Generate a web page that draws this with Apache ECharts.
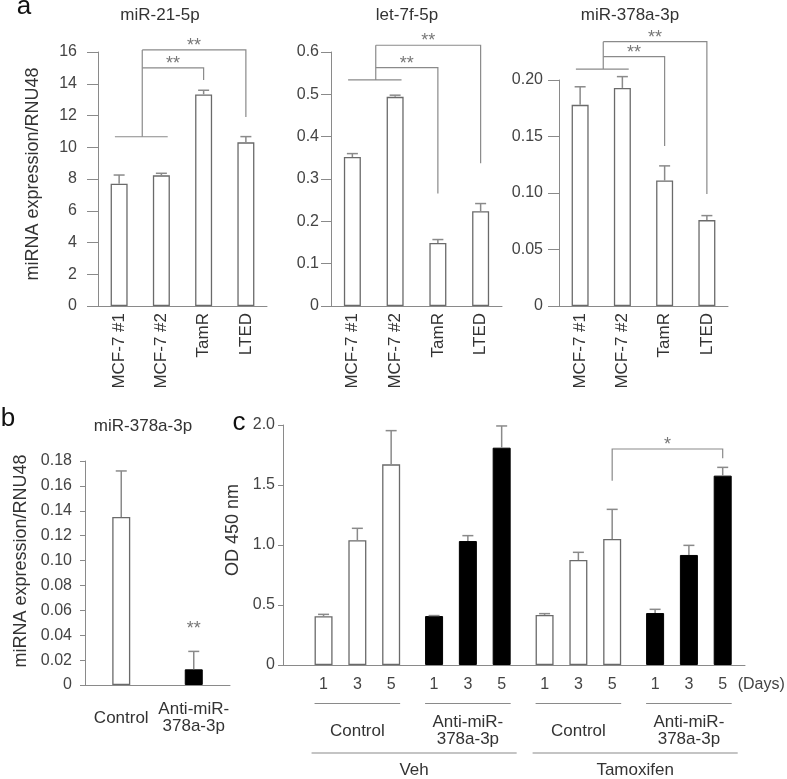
<!DOCTYPE html>
<html><head><meta charset="utf-8">
<script src="https://cdn.jsdelivr.net/npm/echarts@6/dist/echarts.min.js"></script>
<style>html,body{margin:0;padding:0;background:#fff}#c{width:787px;height:779px}</style>
</head><body><div id="c"></div>
<script>
// ---------- data ----------
const catsA = ['MCF-7 #1', 'MCF-7 #2', 'TamR', 'LTED'];
const mir21 = [7.70, 8.23, 13.33, 10.31];
const mir21Err = [0.55, 0.13, 0.26, 0.36];
const let7f = [0.352, 0.494, 0.149, 0.224];
const let7fErr = [0.008, 0.004, 0.008, 0.018];
const mir378 = [0.178, 0.193, 0.111, 0.076];
const mir378Err = [0.016, 0.010, 0.013, 0.004];

const catsB = ['Control', 'Anti-miR-\n378a-3p'];
const knock = [0.135, 0.0126];
const knockErr = [0.037, 0.0144];

const days = ['1', '3', '5'];
const vehCtrl = [0.406, 1.039, 1.672];
const vehCtrlErr = [0.016, 0.100, 0.281];
const vehAnti = [0.408, 1.033, 1.811];
const vehAntiErr = [0.004, 0.045, 0.181];
const tamCtrl = [0.417, 0.875, 1.050];
const tamCtrlErr = [0.011, 0.064, 0.247];
const tamAnti = [0.433, 0.917, 1.578];
const tamAntiErr = [0.031, 0.080, 0.069];
const groupNames = ['Control', 'Anti-miR-\n378a-3p', 'Control', 'Anti-miR-\n378a-3p'];
const treatNames = ['Veh', 'Tamoxifen'];

// significance annotations (data units)
const bracketA1 = {base: 10.66, arm1: 15.0, drop1: 14.24, arm2: 16.13, drop2: 11.9, mark: '**'};
const bracketA2 = {base: 0.534, arm1: 0.563, drop1: 0.266, arm2: 0.616, drop2: 0.337, mark: '**'};
const bracketA3 = {base: 0.2097, arm1: 0.2206, drop1: 0.1416, arm2: 0.2339, drop2: 0.0991, mark: '**'};
const starB = {cat: 1, value: 0.045, mark: '**'};
const bracketC = {fromGroup: 2, toGroup: 3, day: 2, level: 1.80, dropL: 1.536, dropR: 1.722, mark: '*'};

// ---------- style ----------
const FONT = '"Liberation Sans", Arial, Helvetica, sans-serif';
const LINE = '#8a8a8a';
const BORDER = '#6a6a6a';
const TXT = '#333';

// layout of panel c (value x-axis)
const C_FIRST = 1.2, C_GROUP_STEP = 3.27, C_MAX = 13.67;
function cPos(g, d) { return C_FIRST + g * C_GROUP_STEP + d; }

const chart = echarts.init(document.getElementById('c'), null, {renderer: 'canvas'});

function yAx(grid, max, interval, digits, margin, tickLen, extra) {
  return Object.assign({
    gridIndex: grid, type: 'value', min: 0, max: max, interval: interval,
    axisLine: {show: true, lineStyle: {color: LINE, width: 1}},
    axisTick: {show: true, length: tickLen, lineStyle: {color: LINE}},
    splitLine: {show: false},
    axisLabel: {margin: margin, fontSize: 16, color: '#444', fontFamily: FONT,
      formatter: v => (Math.abs(v) < 1e-9 ? '0' : v.toFixed(digits))}
  }, extra || {});
}
function xCat(grid, cats, labelOpts) {
  return {
    gridIndex: grid, type: 'category', data: cats,
    axisLine: {show: true, lineStyle: {color: LINE}},
    axisTick: {show: false},
    axisLabel: Object.assign({fontSize: 17, color: TXT, fontFamily: FONT, interval: 0}, labelOpts)
  };
}
function errSeries(grid, data) {
  return {
    type: 'custom', xAxisIndex: grid, yAxisIndex: grid, data: data, z: 5, silent: true,
    renderItem(params, api) {
      const x = api.value(0), v = api.value(1), e = api.value(2);
      const p0 = api.coord([x, v]), p1 = api.coord([x, v + e]);
      const st = {stroke: LINE, lineWidth: 1.5};
      return {type: 'group', children: [
        {type: 'line', shape: {x1: p0[0], y1: p0[1], x2: p1[0], y2: p1[1]}, style: st},
        {type: 'line', shape: {x1: p1[0] - 5.5, y1: p1[1], x2: p1[0] + 5.5, y2: p1[1]}, style: st}
      ]};
    }
  };
}
const whiteBar = {color: '#fff', borderColor: BORDER, borderWidth: 1.3};
const blackBar = {color: '#000', borderColor: '#000', borderWidth: 1};
const yName = (name, gap, pad) => ({
  name: name, nameLocation: 'middle', nameGap: gap,
  nameTextStyle: {fontSize: 18, color: TXT, fontFamily: FONT, padding: pad}
});

const cWhite = [], cBlack = [], cErr = [];
[[vehCtrl, vehCtrlErr], [vehAnti, vehAntiErr], [tamCtrl, tamCtrlErr], [tamAnti, tamAntiErr]].forEach(([vals, errs], g) => {
  vals.forEach((v, d) => {
    (g % 2 === 0 ? cWhite : cBlack).push([cPos(g, d), v]);
    cErr.push([cPos(g, d), v, errs[d]]);
  });
});

const option = {
  animation: false,
  backgroundColor: '#fff',
  textStyle: {fontFamily: FONT},
  grid: [
    {left: 98, top: 52, width: 169, height: 254},
    {left: 331, top: 52, width: 171, height: 254},
    {left: 559, top: 80, width: 169, height: 226},
    {left: 85, top: 461, width: 145, height: 224},
    {left: 283, top: 425, width: 462, height: 240}
  ],
  xAxis: [
    xCat(0, catsA, {rotate: 90, margin: 7}),
    xCat(1, catsA, {rotate: 90, margin: 7}),
    xCat(2, catsA, {rotate: 90, margin: 7}),
    xCat(3, catsB, {margin: 33, verticalAlign: 'middle', lineHeight: 17, align: 'center'}),
    {gridIndex: 4, type: 'value', min: 0, max: C_MAX,
      axisLine: {show: true, onZero: false, lineStyle: {color: LINE}},
      axisTick: {show: false}, axisLabel: {show: false}, splitLine: {show: false}}
  ],
  yAxis: [
    yAx(0, 16, 2, 0, 21, 11, yName('miRNA expression/RNU48', 56, [0, 0, 0, 10])),
    yAx(1, 0.6, 0.1, 1, 12, 10),
    yAx(2, 0.2, 0.05, 2, 16, 11),
    yAx(3, 0.18, 0.02, 2, 13, 5, yName('miRNA expression/RNU48', 55, [0, 0, 0, 24])),
    yAx(4, 2.0, 0.5, 1, 8, 5, yName('OD 450 nm', 35, [0, 0, 0, 30]))
  ],
  series: [
    {type: 'bar', xAxisIndex: 0, yAxisIndex: 0, data: mir21, barWidth: 17, itemStyle: whiteBar},
    errSeries(0, mir21.map((v, i) => [i, v, mir21Err[i]])),
    {type: 'bar', xAxisIndex: 1, yAxisIndex: 1, data: let7f, barWidth: 17, itemStyle: whiteBar},
    errSeries(1, let7f.map((v, i) => [i, v, let7fErr[i]])),
    {type: 'bar', xAxisIndex: 2, yAxisIndex: 2, data: mir378, barWidth: 17, itemStyle: whiteBar},
    errSeries(2, mir378.map((v, i) => [i, v, mir378Err[i]])),
    {type: 'bar', xAxisIndex: 3, yAxisIndex: 3, barWidth: 18,
      data: knock.map((v, i) => ({value: v, itemStyle: i === 0 ? whiteBar : blackBar}))},
    errSeries(3, knock.map((v, i) => [i, v, knockErr[i]])),
    {type: 'bar', xAxisIndex: 4, yAxisIndex: 4, data: cWhite, barWidth: 18, itemStyle: whiteBar},
    {type: 'bar', xAxisIndex: 4, yAxisIndex: 4, data: cBlack, barWidth: 18, barGap: '-100%', itemStyle: blackBar},
    errSeries(4, cErr)
  ]
};
chart.setOption(option);

// ---------- annotations placed through the chart's own scales ----------
const G = [];
const P = (g, x, y) => chart.convertToPixel({gridIndex: g}, [x, y]);
function poly(points) {
  G.push({type: 'polyline', silent: true, shape: {points: points},
    style: {stroke: LINE, lineWidth: 1.2, fill: null}});
}
function text(x, y, t, size, extra) {
  G.push({type: 'text', silent: true, x: x, y: y,
    style: Object.assign({text: t, fontSize: size, fontFamily: FONT, fill: TXT,
      align: 'center', verticalAlign: 'middle'}, extra || {})});
}

[bracketA1, bracketA2, bracketA3].forEach((b, g) => {
  const c0 = P(g, 0, b.base), c1 = P(g, 1, b.base);
  const band = c1[0] - c0[0];
  const baseY = c0[1];
  const stemX = (c0[0] + c1[0]) / 2 + 2;
  poly([[c0[0] - 0.1 * band, baseY], [c1[0] + 0.15 * band, baseY]]);
  poly([[stemX, baseY], [stemX, P(g, 0, b.arm2)[1]]]);
  [[2, b.arm1, b.drop1], [3, b.arm2, b.drop2]].forEach(([cat, lv, dr]) => {
    const a = P(g, cat, lv), d = P(g, cat, dr);
    poly([[stemX, a[1]], [a[0], a[1]], [a[0], d[1]]]);
    text((stemX + a[0]) / 2, a[1] - 4, b.mark, 18, {fill: '#777'});
  });
});

const sb = P(3, starB.cat, starB.value);
text(sb[0], sb[1], starB.mark, 18, {fill: '#777'});

// panel c: bracket
{
  const l = P(4, cPos(bracketC.fromGroup, bracketC.day), bracketC.level);
  const r = P(4, cPos(bracketC.toGroup, bracketC.day), bracketC.level);
  const ld = P(4, cPos(bracketC.fromGroup, bracketC.day), bracketC.dropL);
  const rd = P(4, cPos(bracketC.toGroup, bracketC.day), bracketC.dropR);
  poly([[l[0], ld[1]], [l[0], l[1]], [r[0], r[1]], [r[0], rd[1]]]);
  text((l[0] + r[0]) / 2, l[1] - 4, bracketC.mark, 18, {fill: '#777'});
}
// panel c: day labels, group lines and names
const y0 = P(4, 0, 0)[1];
const edges = [];
groupNames.forEach((name, g) => {
  days.forEach((dl, d) => {
    const p = P(4, cPos(g, d), 0);
    text(p[0], y0 + 20, dl, 16, {fill: '#444'});
  });
  const L = P(4, cPos(g, 0), 0)[0] - 9, R = P(4, cPos(g, 2), 0)[0] + 9;
  edges.push([L, R]);
  poly([[L, y0 + 38.5], [R, y0 + 38.5]]);
  text((L + R) / 2, y0 + 66, name, 17, {lineHeight: 17});
});
treatNames.forEach((name, k) => {
  const L = edges[2 * k][0] - 3, R = edges[2 * k + 1][1] + 6;
  poly([[L, y0 + 88], [R, y0 + 88]]);
  text((L + R) / 2, y0 + 105, name, 17);
});
text(P(4, cPos(3, 2), 0)[0] + 15, y0 + 20, '(Days)', 16, {align: 'left', fill: '#444'});

// titles and panel letters
text(160, 15, 'miR-21-5p', 17);
text(407, 15, 'let-7f-5p', 17);
text(630, 15, 'miR-378a-3p', 17);
text(143, 426, 'miR-378a-3p', 17);
text(24, 7, 'a', 26, {fill: '#111'});
text(8, 419, 'b', 26, {fill: '#111'});
text(239, 423, 'c', 26, {fill: '#111'});

chart.setOption({graphic: G});
</script></body></html>
